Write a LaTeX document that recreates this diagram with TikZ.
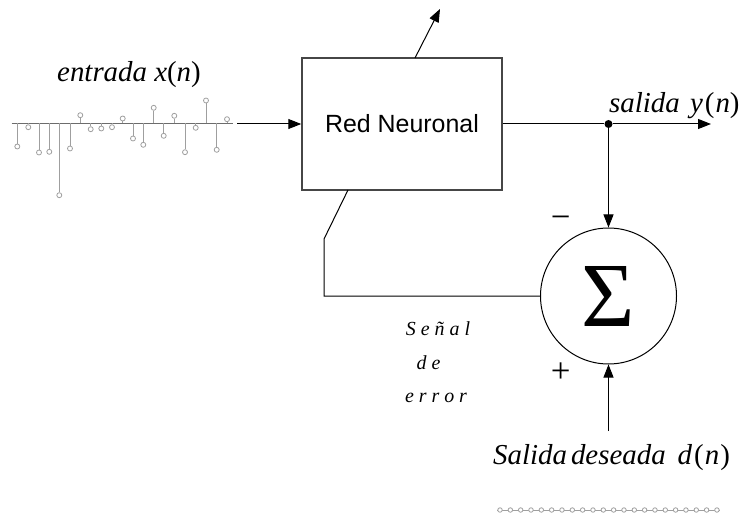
\documentclass[tikz,border=0pt]{standalone}
\usepackage{fontspec}
\setmainfont{Liberation Serif}
\newfontfamily\arialf{Liberation Sans}
\usetikzlibrary{arrows.meta}
\begin{document}
\begin{tikzpicture}[x=1bp,y=-1bp,
  conn/.style={line width=1bp, -{Triangle[length=13bp,width=10bp]}},
  wire/.style={line width=1bp},
  stemline/.style={gray!75, line width=1bp},
  axisline/.style={gray!85!black, line width=1bp},
  stemdot/.style={circle, draw=gray!75, fill=white, inner sep=0pt, minimum size=5bp, line width=0.8bp},
  lbl/.style={inner sep=0pt},
  biglbl/.style={inner sep=0pt, anchor=base west, font=\fontsize{29}{33}\selectfont\itshape},
  sign/.style={inner sep=0pt, font=\fontsize{35}{40}\selectfont},
  errtxt/.style={inner sep=0pt, anchor=base, font=\fontsize{20}{23}\selectfont\itshape},
]
\useasboundingbox (0,0) rectangle (753,514);

% input signal
\coordinate (axL) at (11.7,123.5);
\coordinate (axR) at (233,123.5);
\draw[axisline] (axL) -- (axR);
\foreach \xx/\dy [count=\i] in {17.3/23, 28.3/3.7, 39/29, 49.3/28.3, 59.3/71.7, 70/25, 80.3/-8.3, 90.7/5.7, 101.3/5, 112/3.7, 122.7/-5, 133/15, 143.3/21.3, 153.7/-15.7, 163.7/12.3, 174.3/-7.7, 185/28.7, 195.7/4.3, 206/-23, 216.7/26.3, 227/-4.3}{
  \coordinate (b\i) at (\xx,123.5);
  \node[stemdot] (s\i) at (\xx,123.5+\dy) {};
  \draw[stemline] (b\i) -- (s\i);
}
\node[biglbl] (inlbl) at (57,82) {entrada x\/\upshape(\itshape n\/\upshape)};

% neural network box
\node[draw=gray!55!black, line width=1.5bp, minimum width=200bp, minimum height=132bp, inner sep=0pt] (box) at (402,124) {\arialf\fontsize{25}{29}\selectfont Red Neuronal};

% summing junction
\node[circle, draw, line width=1bp, minimum size=136bp, inner sep=0pt] (sum) at (608.5,296) {\fontsize{92}{96}\selectfont Σ};

% output branch point
\node[circle, fill, inner sep=0pt, minimum size=8bp] (dot) at (608.5,124) {};

\coordinate (in0) at (237,124);
\coordinate (outend) at (711,124);
\coordinate (topstart) at (415,58);
\coordinate (topend) at (440,9);
\coordinate (dsrc) at (608.5,431);
\coordinate (fb1) at (348,190);
\coordinate (fb2) at (324,239);
\coordinate (fb3) at (324,296);

\draw[conn] (in0) -- (box.west);
\draw[wire] (box.east) -- (dot);
\draw[conn] (dot) -- (outend);
\draw[conn] (dot) -- (sum.north);
\draw[conn] (dsrc) -- (sum.south);
\draw[wire] (fb1) -- (fb2) -- (fb3) -- (sum.west);
\draw[conn] (topstart) -- (topend);

\node[biglbl] (outlbl) at (609,113) {salida\hspace{3bp} y\/\hspace{2bp}\upshape(\hspace{1bp}\itshape n\/\upshape)};
\node[biglbl] (deslbl) at (493,464) {Salida\hspace{4bp}deseada\hspace{12bp}d\/\hspace{2bp}\upshape(\hspace{1bp}\itshape n\/\hspace{1bp}\upshape)};

\node[sign, anchor=base] (minus) at (560.7,229) {−};
\node[sign] (plus) at (560.7,373) {+};

\node[errtxt] (e1) at (438,335.7) {S e ñ a l};
\node[errtxt] (e2) at (428.5,369) {d e};
\node[errtxt] (e3) at (436,402) {e r r o r};

% desired signal
\coordinate (dL) at (497,510);
\coordinate (dR) at (720,510);
\draw[stemline] (dL) -- (dR);
\foreach \k in {0,...,21}{
  \node[stemdot, minimum size=4.5bp] (d\k) at (500+\k*10.33,510) {};
}
\end{tikzpicture}
\end{document}
